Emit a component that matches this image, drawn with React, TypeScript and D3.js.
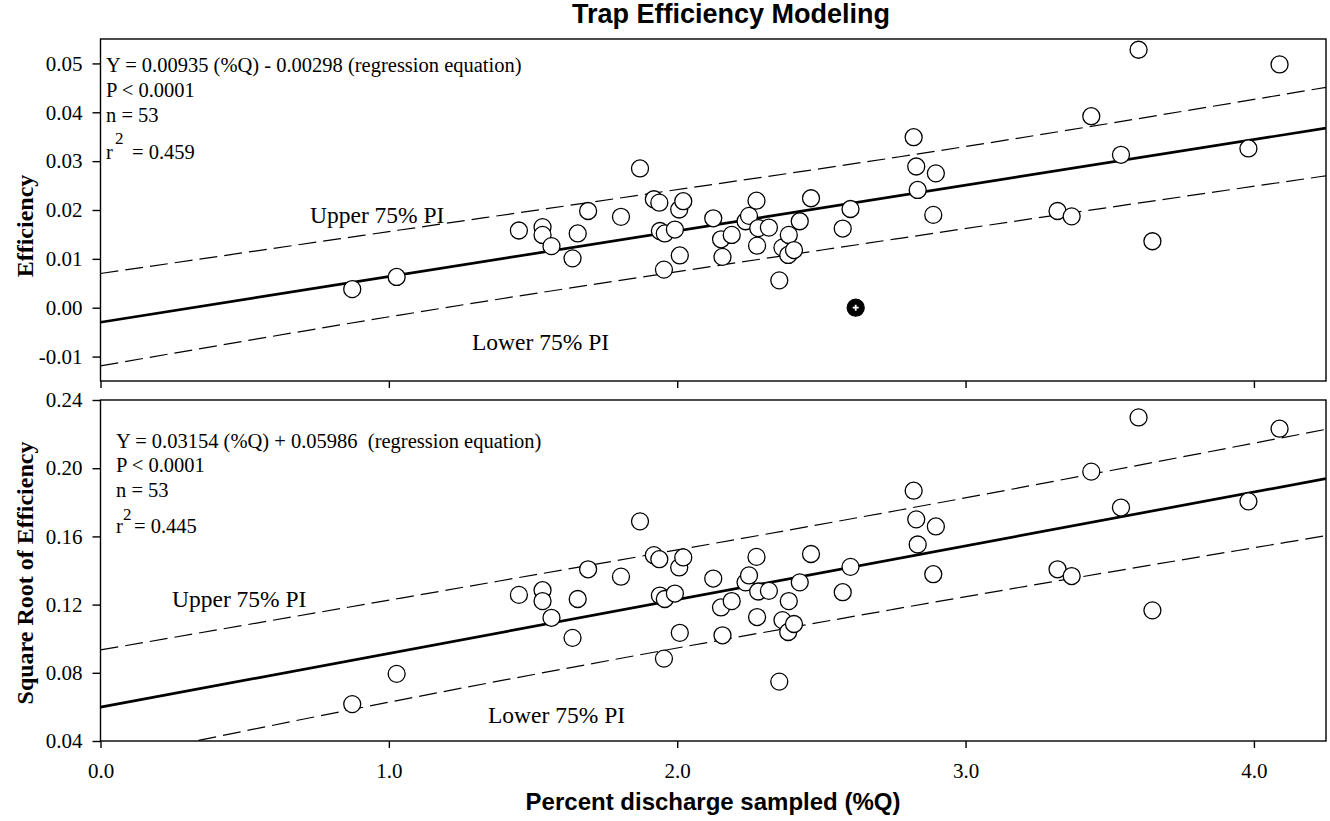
import { useEffect, useRef } from 'react';
import * as d3 from 'd3';

// percent discharge sampled (%Q) and trap efficiency
const pctQ = [
  0.873, 1.027, 1.451, 1.533, 1.533, 1.564, 1.637, 1.655, 1.691, 1.805,
  1.871, 1.919, 1.938, 1.940, 1.954, 1.957, 1.992, 2.007, 2.009, 2.021,
  2.125, 2.152, 2.157, 2.189, 2.237, 2.249, 2.275, 2.277, 2.281, 2.318,
  2.354, 2.365, 2.385, 2.387, 2.405, 2.425, 2.464, 2.574, 2.601, 2.619,
  2.820, 2.829, 2.834, 2.888, 2.897, 3.319, 3.368, 3.436, 3.539, 3.600,
  3.648, 3.981, 4.089,
];
const efficiency = [
  0.0038, 0.0063, 0.0158, 0.0165, 0.0149, 0.0126, 0.0101, 0.0152, 0.0198, 0.0186,
  0.0285, 0.0222, 0.0215, 0.0157, 0.0078, 0.0152, 0.0160, 0.0201, 0.0107, 0.0218,
  0.0183, 0.0140, 0.0104, 0.0149, 0.0177, 0.0188, 0.0219, 0.0127, 0.0163, 0.0164,
  0.0056, 0.0123, 0.0108, 0.0149, 0.0118, 0.0177, 0.0224, 0.0162, 0.0202, 0.0,
  0.0349, 0.0289, 0.0241, 0.0190, 0.0275, 0.0198, 0.0187, 0.0392, 0.0313, 0.0528,
  0.0136, 0.0326, 0.0498,
];
// the one point drawn with a filled symbol
const flaggedIdx = [39];
const sqrtEfficiency = efficiency.map(Math.sqrt);

const xTicks = [0, 1, 2, 3, 4];
const effTicks = [-0.01, 0, 0.01, 0.02, 0.03, 0.04, 0.05];
const sqrtTicks = [0.04, 0.08, 0.12, 0.16, 0.2, 0.24];

const effFit = { slope: 0.00935, intercept: -0.00298 };
const sqrtFit = { slope: 0.03154, intercept: 0.05986 };

// 75% prediction interval bounds
const effUpperX = [0, 1.038, 1.911, 2.772, 4.25];
const effUpper = [0.007, 0.0159, 0.0234, 0.0309, 0.0451];
const effLowerX = [0, 1.038, 2.772, 4.25];
const effLower = [-0.0119, -0.0015, 0.0142, 0.027];
const sqrtUpperX = [0, 1.038, 2.772, 4.25];
const sqrtUpper = [0.0934, 0.1237, 0.1755, 0.2228];
const sqrtLowerX = [0, 1.038, 2.749, 4.25];
const sqrtLower = [0.0286, 0.064, 0.1172, 0.1604];

const effNotes = ['Y = 0.00935 (%Q) - 0.00298 (regression equation)', 'P < 0.0001', 'n = 53'];
const sqrtNotes = ['Y = 0.03154 (%Q) + 0.05986  (regression equation)', 'P < 0.0001', 'n = 53'];

const SERIF = '"Liberation Serif", "Times New Roman", serif';
const SANS = '"Liberation Sans", Arial, sans-serif';

const App = () => {
  const ref = useRef<SVGSVGElement | null>(null);

  useEffect(() => {
    const svg = d3.select(ref.current);
    svg.selectAll('*').remove();

    const left = 100.5;
    const right = 1326;
    const x = d3.scaleLinear().domain([0, 4.25]).range([left, right]);
    const fmt = (d: number) => d3.format('.2f')(d).replace('\u2212', '-');

    const panels = [
      {
        id: 'eff', top: 39, bottom: 381, domain: [-0.015, 0.055], ticks: effTicks,
        ys: efficiency, fit: effFit,
        upper: effUpperX.map((v, i) => [v, effUpper[i]]),
        lower: effLowerX.map((v, i) => [v, effLower[i]]),
        xLabels: false, title: 'Efficiency', titleY: 226,
        notes: effNotes, noteX: 106, noteY: [72, 97, 122],
        r2: '= 0.459', r2Y: 159, supX: 9, supY: 144, eqX: 26,
        upLab: [310, 223], lowLab: [472, 350],
      },
      {
        id: 'sqrt', top: 400, bottom: 741, domain: [0.04, 0.24], ticks: sqrtTicks,
        ys: sqrtEfficiency, fit: sqrtFit,
        upper: sqrtUpperX.map((v, i) => [v, sqrtUpper[i]]),
        lower: sqrtLowerX.map((v, i) => [v, sqrtLower[i]]),
        xLabels: true, title: 'Square Root of Efficiency', titleY: 573,
        notes: sqrtNotes, noteX: 116, noteY: [448, 472, 497],
        r2: '= 0.445', r2Y: 533, supX: 7, supY: 520, eqX: 18,
        upLab: [172, 607], lowLab: [488, 723],
      },
    ];

    panels.forEach(p => {
      const y = d3.scaleLinear().domain(p.domain).range([p.bottom, p.top]);
      const g = svg.append('g');

      g.append('clipPath')
        .attr('id', `clip-${p.id}`)
        .append('rect')
        .attr('x', left)
        .attr('y', p.top)
        .attr('width', right - left)
        .attr('height', p.bottom - p.top);

      const plot = g.append('g').attr('clip-path', `url(#clip-${p.id})`);

      // prediction interval bounds
      const piLine = d3
        .line<number[]>()
        .x(d => x(d[0]))
        .y(d => y(d[1]))
        .curve(d3.curveMonotoneX);
      [p.upper, p.lower].forEach(b => {
        plot.append('path')
          .attr('d', piLine(b))
          .attr('fill', 'none')
          .attr('stroke', '#000')
          .attr('stroke-width', 1.2)
          .attr('stroke-dasharray', '18,7');
      });

      // regression line
      const ends = x.domain();
      plot.append('line')
        .attr('x1', x(ends[0]))
        .attr('y1', y(p.fit.slope * ends[0] + p.fit.intercept))
        .attr('x2', x(ends[1]))
        .attr('y2', y(p.fit.slope * ends[1] + p.fit.intercept))
        .attr('stroke', '#000')
        .attr('stroke-width', 2.7);

      // points
      const idx = d3.range(pctQ.length);
      plot.selectAll('circle.pt')
        .data(idx)
        .enter()
        .append('circle')
        .attr('class', 'pt')
        .attr('cx', i => x(pctQ[i]))
        .attr('cy', i => y(p.ys[i]))
        .attr('r', 8.5)
        .attr('fill', i => (flaggedIdx.includes(i) ? '#000' : '#fff'))
        .attr('stroke', '#000')
        .attr('stroke-width', 1.3);

      flaggedIdx.forEach(i => {
        const cx = x(pctQ[i]);
        const cy = y(p.ys[i]);
        plot.append('path')
          .attr('d', `M${cx - 3},${cy}H${cx + 3}M${cx},${cy - 3}V${cy + 3}`)
          .attr('stroke', '#fff')
          .attr('stroke-width', 1.8);
      });

      // frame
      g.append('rect')
        .attr('x', left)
        .attr('y', p.top)
        .attr('width', right - left)
        .attr('height', p.bottom - p.top)
        .attr('fill', 'none')
        .attr('stroke', '#000')
        .attr('stroke-width', 1.4);

      const yAxis = g.append('g')
        .attr('transform', `translate(${left},0)`)
        .call(d3.axisLeft(y).tickValues(p.ticks).tickSize(8).tickSizeOuter(0).tickPadding(10).tickFormat(d => fmt(+d)));
      const xAxis = g.append('g')
        .attr('transform', `translate(0,${p.bottom})`)
        .call(
          d3.axisBottom(x)
            .tickValues(xTicks)
            .tickSize(7)
            .tickSizeOuter(0)
            .tickPadding(15)
            .tickFormat(d => (p.xLabels ? d3.format('.1f')(+d) : ''))
        );
      [yAxis, xAxis].forEach(a => {
        a.select('.domain').remove();
        a.selectAll('.tick line').attr('stroke', '#000').attr('stroke-width', 1.4);
        a.selectAll('.tick text')
          .attr('fill', '#000')
          .attr('font-family', SERIF)
          .attr('font-size', 21);
      });

      // y axis title
      g.append('text')
        .attr('transform', `translate(33,${p.titleY}) rotate(-90)`)
        .attr('text-anchor', 'middle')
        .attr('font-family', SERIF)
        .attr('font-weight', 'bold')
        .attr('font-size', 24)
        .text(p.title);

      // statistics block
      p.notes.forEach((t, i) => {
        g.append('text')
          .attr('x', p.noteX)
          .attr('y', p.noteY[i])
          .attr('font-family', SERIF)
          .attr('font-size', 20.5)
          .style('white-space', 'pre')
          .text(t);
      });
      g.append('text')
        .attr('x', p.noteX)
        .attr('y', p.r2Y)
        .attr('font-family', SERIF)
        .attr('font-size', 20.5)
        .text('r');
      g.append('text')
        .attr('x', p.noteX + p.supX)
        .attr('y', p.supY)
        .attr('font-family', SERIF)
        .attr('font-size', 17)
        .text('2');
      g.append('text')
        .attr('x', p.noteX + p.eqX)
        .attr('y', p.r2Y)
        .attr('font-family', SERIF)
        .attr('font-size', 20.5)
        .text(p.r2);

      // interval labels
      [
        { pos: p.upLab, t: 'Upper 75% PI' },
        { pos: p.lowLab, t: 'Lower 75% PI' },
      ].forEach(l => {
        g.append('text')
          .attr('x', l.pos[0])
          .attr('y', l.pos[1])
          .attr('font-family', SERIF)
          .attr('font-size', 23.5)
          .text(l.t);
      });
    });

    svg.append('text')
      .attr('x', 731)
      .attr('y', 23)
      .attr('text-anchor', 'middle')
      .attr('font-family', SANS)
      .attr('font-weight', 'bold')
      .attr('font-size', 27)
      .text('Trap Efficiency Modeling');

    svg.append('text')
      .attr('x', 713)
      .attr('y', 810)
      .attr('text-anchor', 'middle')
      .attr('font-family', SANS)
      .attr('font-weight', 'bold')
      .attr('font-size', 24)
      .text('Percent discharge sampled (%Q)');
  }, []);

  return (
    <svg
      ref={ref}
      width={1330}
      height={821}
      style={{ position: 'absolute', left: 0, top: 0, background: '#fff' }}
    />
  );
};

export default App;
